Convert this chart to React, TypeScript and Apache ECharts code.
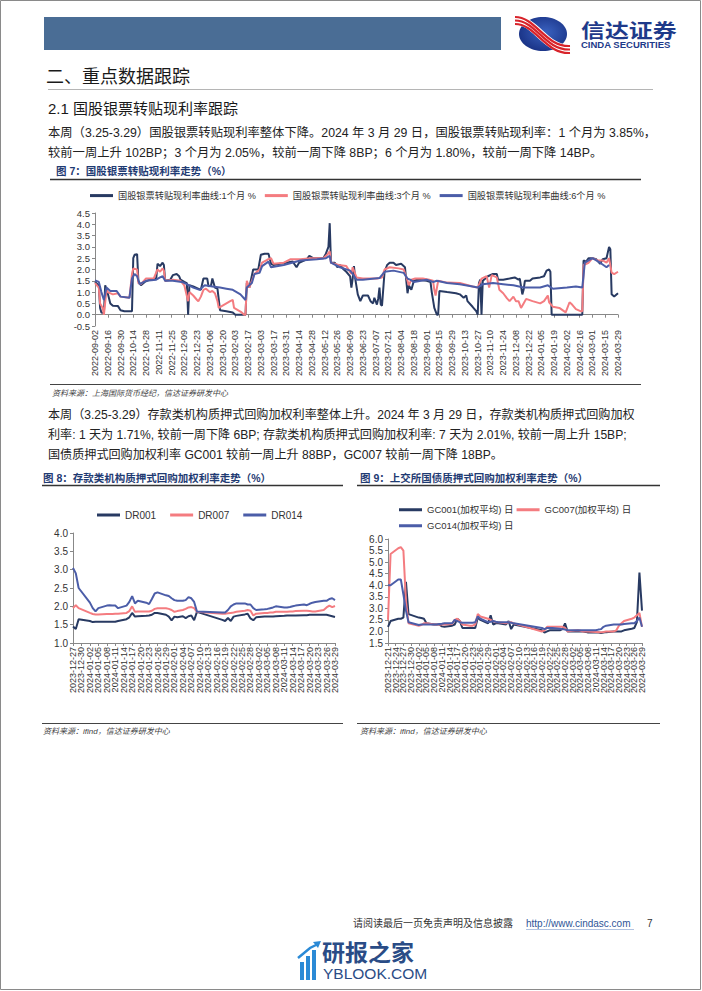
import React, { useEffect, useRef } from 'react';
import * as echarts from 'echarts';

const FONT = "'Liberation Sans', 'Noto Sans CJK SC', sans-serif";
const C_NAVY = '#283A62';
const C_SAL = '#F47C80';
const C_BLUE = '#4B5DA8';

function dayRange(s: [number, number, number], e: [number, number, number], weekdaysOnly: boolean): string[] {
  const out: string[] = [];
  let t = Date.UTC(s[0], s[1] - 1, s[2]);
  const end = Date.UTC(e[0], e[1] - 1, e[2]);
  while (t <= end) {
    const d = new Date(t);
    const wd = d.getUTCDay();
    if (!weekdaysOnly || (wd !== 0 && wd !== 6)) {
      out.push(d.getUTCFullYear() + '-' + String(d.getUTCMonth() + 1).padStart(2, '0') + '-' + String(d.getUTCDate()).padStart(2, '0'));
    }
    t += 86400000;
  }
  return out;
}

// ---------- Chart 1: 国股银票转贴现利率 (weekday categories, points as [weekday index, value]) ----------
const weekDays1 = dayRange([2022, 9, 2], [2024, 3, 29], true);
const names1 = ['国股银票转贴现利率曲线:1个月 %', '国股银票转贴现利率曲线:3个月 %', '国股银票转贴现利率曲线:6个月 %'];

const rate1M: [number, number][] = [
  [0,1.45],[2,1.35],[3,1.3],[4,0.3],[5,0.1],[6,0.08],[7,0.1],[8,1.3],[10,0.95],[12,0.5],[14,0.4],[18,0.38],[20,0.2],[23,0.15],[29,0.15],
  [30,2.5],[31,2.65],[33,2.68],[34,1.5],[36,1.3],[39,1.45],[43,1.55],[48,1.6],[49,2.25],[51,2.15],[53,2.3],[54,2.2],[55,1.5],[59,1.55],
  [61,1.75],[64,1.8],[66,1.7],[67,1.55],[70,1.45],[72,1.4],[73,0.0],[74,1.3],[77,1.25],[83,1.1],[85,1.6],[88,1.6],[89,1.25],[91,1.3],
  [92,1.6],[94,1.2],[96,1.15],[98,0.2],[103,0.15],[108,0.1],[110,0.0],[118,0.0],[119,1.4],[121,1.2],[124,2.0],[128,2.0],[130,2.65],
  [133,2.7],[136,2.7],[138,2.25],[140,2.2],[145,2.25],[150,2.3],[155,2.35],[158,2.1],[160,2.3],[166,2.45],[168,2.6],[171,2.5],[179,2.5],
  [181,2.7],[183,3.0],[184,4.05],[185,2.3],[188,2.3],[190,2.1],[192,2.2],[195,2.0],[197,1.9],[200,1.7],[201,1.2],[202,1.6],[203,2.15],
  [204,1.6],[206,0.9],[208,0.6],[210,0.85],[214,0.85],[216,0.6],[218,0.5],[219,0.75],[221,0.45],[222,0.7],[223,1.2],[224,0.45],[225,0.4],
  [227,1.9],[229,2.2],[231,2.3],[234,2.3],[236,2.2],[240,2.25],[243,2.1],[245,0.95],[246,1.3],[248,1.1],[250,1.5],[253,1.55],[260,1.5],
  [263,1.45],[264,1.0],[266,0.3],[268,0.0],[269,0.0],[270,1.05],[276,1.0],[283,0.95],[286,0.9],[289,0.75],[291,0.85],[292,0.6],[296,0.35],
  [299,0.15],[300,0.0],[301,1.4],[302,1.55],[303,0.0],[304,1.5],[308,1.7],[312,1.8],[315,1.8],[316,1.55],[320,1.55],[325,1.6],[329,1.65],
  [332,1.55],[333,1.6],[335,0.9],[336,1.1],[337,1.5],[341,1.5],[343,1.6],[349,1.65],[352,1.7],[354,1.95],[356,2.0],[357,1.9],[358,0.0],
  [382,0.0],[383,2.4],[385,2.35],[387,2.5],[390,2.5],[393,2.45],[396,2.25],[398,2.45],[401,2.5],[403,3.0],[404,2.9],[405,0.9],[407,0.8],[410,0.95]
];
const rate3M: [number, number][] = [
  [0,1.4],[3,1.2],[4,0.5],[6,0.3],[7,0.0],[9,1.1],[10,1.0],[14,0.9],[18,0.95],[20,0.8],[27,0.75],[29,1.8],[30,2.05],[33,2.0],[34,1.4],
  [36,1.35],[40,1.6],[46,1.6],[49,2.0],[51,1.9],[53,2.05],[54,1.95],[55,1.5],[61,1.55],[67,1.5],[70,1.3],[73,0.6],[74,1.0],[77,0.85],
  [80,0.65],[81,0.6],[83,0.8],[85,1.1],[87,1.15],[90,1.0],[92,1.05],[94,0.95],[96,0.6],[97,0.3],[100,0.4],[103,0.5],[106,0.6],[108,0.65],
  [109,0.3],[112,0.2],[115,0.1],[117,0.0],[118,0.0],[119,1.5],[121,1.2],[125,1.8],[129,2.0],[131,2.3],[135,2.43],[138,2.5],[140,2.25],
  [148,2.3],[153,2.45],[161,2.45],[169,2.5],[179,2.5],[182,2.65],[184,2.8],[185,2.3],[191,2.2],[197,2.15],[201,1.8],[202,2.1],[205,1.65],
  [210,1.6],[221,1.6],[225,1.65],[227,2.0],[231,2.1],[238,2.05],[242,2.0],[245,1.5],[246,1.3],[248,1.55],[251,1.6],[257,1.6],[262,1.55],
  [265,1.5],[266,1.1],[267,0.85],[269,1.5],[276,1.42],[286,1.4],[296,1.25],[300,1.2],[303,1.6],[307,1.7],[309,1.2],[311,1.75],[315,1.65],
  [317,1.1],[320,0.95],[323,0.72],[325,0.6],[328,0.8],[330,0.6],[332,0.6],[334,0.3],[336,0.5],[338,0.7],[343,0.6],[349,0.5],[352,0.6],
  [355,0.85],[356,0.55],[359,0.35],[364,0.3],[369,0.1],[372,0.55],[374,0.45],[377,0.25],[381,0.15],[382,0.15],[383,2.2],[387,2.3],
  [390,2.5],[394,2.4],[398,2.4],[401,2.3],[403,2.5],[405,1.86],[407,1.8],[410,1.9]
];
const rate6M: [number, number][] = [
  [0,1.52],[3,1.45],[5,1.0],[7,0.65],[9,1.2],[12,1.05],[17,1.05],[20,0.8],[27,0.75],[29,1.6],[31,1.8],[33,1.7],[35,1.35],[40,1.5],
  [48,1.55],[51,1.65],[53,1.7],[55,1.5],[61,1.5],[68,1.45],[72,1.35],[77,1.2],[82,1.1],[86,1.3],[92,1.25],[98,1.2],[103,1.15],[108,1.1],
  [114,0.9],[118,0.65],[119,1.2],[123,1.4],[125,1.8],[129,1.85],[131,2.15],[136,2.35],[138,2.1],[148,2.2],[161,2.4],[174,2.45],[181,2.5],
  [184,2.6],[185,2.3],[192,2.1],[200,1.95],[202,1.8],[205,1.55],[210,1.55],[223,1.62],[227,1.9],[234,1.95],[242,1.85],[245,1.6],[247,1.55],
  [250,1.45],[260,1.55],[265,1.45],[268,1.5],[276,1.4],[286,1.35],[296,1.25],[300,1.2],[304,1.35],[312,1.4],[320,1.35],[328,1.3],
  [336,1.2],[341,1.2],[349,1.2],[355,1.3],[359,1.15],[370,1.2],[377,1.25],[382,1.2],[384,2.3],[390,2.5],[396,2.3],[401,2.1],[403,2.2]
];
const yTicks1 = { min: -0.5, max: 4.5, interval: 0.5 };

// ---------- Chart 2: DR ----------
const calDays2 = dayRange([2023, 12, 27], [2024, 3, 29], false);
const tradeDays2 = [
  '2023-12-27','2023-12-28','2023-12-29',
  '2024-01-02','2024-01-03','2024-01-04','2024-01-05',
  '2024-01-08','2024-01-09','2024-01-10','2024-01-11','2024-01-12',
  '2024-01-15','2024-01-16','2024-01-17','2024-01-18','2024-01-19',
  '2024-01-22','2024-01-23','2024-01-24','2024-01-25','2024-01-26',
  '2024-01-29','2024-01-30','2024-01-31','2024-02-01','2024-02-02',
  '2024-02-04','2024-02-05','2024-02-06','2024-02-07','2024-02-08','2024-02-09',
  '2024-02-18','2024-02-19','2024-02-20','2024-02-21','2024-02-22','2024-02-23',
  '2024-02-26','2024-02-27','2024-02-28','2024-02-29','2024-03-01',
  '2024-03-04','2024-03-05','2024-03-06','2024-03-07','2024-03-08',
  '2024-03-11','2024-03-12','2024-03-13','2024-03-14','2024-03-15',
  '2024-03-18','2024-03-19','2024-03-20','2024-03-21','2024-03-22',
  '2024-03-25','2024-03-26','2024-03-27','2024-03-28','2024-03-29'
];
const dr001 = [1.45,1.38,1.65, 1.6,1.57,1.58,1.58, 1.58,1.58,1.58,1.58,1.6, 1.65,1.7,1.82,1.72,1.73, 1.74,1.75,1.77,1.82,1.82,
  1.77,1.72,1.62,1.72,1.7, 1.73,1.68,1.73,1.75,1.62,1.85, 1.63,1.6,1.68,1.6,1.72,1.74, 1.78,1.8,1.67,1.62,1.7,
  1.72,1.72,1.72,1.72,1.73, 1.74,1.75,1.75,1.75,1.75, 1.76,1.76,1.77,1.77,1.77, 1.77,1.77,1.75,1.73,1.71];
const dr007 = [1.95,2.03,1.95, 1.82,1.79,1.78,1.78, 1.79,1.79,1.79,1.8,1.8, 1.82,1.87,2.0,1.85,1.86, 1.86,1.86,1.88,1.93,1.95,
  1.95,1.93,1.9,1.85,1.87, 1.9,1.93,1.97,1.98,1.95,1.85, 1.8,1.8,1.81,1.82,1.83,1.85, 1.88,1.9,1.88,1.75,1.8,
  1.82,1.82,1.83,1.83,1.85, 1.85,1.85,1.86,1.86,1.87, 1.88,1.88,1.87,1.86,1.86, 1.9,1.97,2.02,1.98,2.01];
const dr014 = [3.05,2.9,2.5, 2.1,1.95,1.86,1.95, 2.02,2.03,2.02,2.02,1.95, 2.02,2.12,2.28,2.08,2.15, 2.1,2.06,2.2,2.35,2.38,
  2.3,2.28,2.22,2.17,2.15, 2.15,2.17,2.25,2.22,2.12,1.86, 1.83,1.83,1.9,2.0,2.05,2.08, 2.08,2.05,2.05,1.95,1.9,
  1.92,1.93,1.95,1.97,2.0, 1.97,1.97,1.98,2.0,2.02, 2.05,2.03,2.07,2.1,2.12, 2.15,2.15,2.2,2.22,2.17];
const yTicks2 = { min: 1.0, max: 4.0, interval: 0.5 };

// ---------- Chart 3: GC ----------
const calDays3 = dayRange([2023, 12, 21], [2024, 3, 29], false);
const tradeDays3 = [
  '2023-12-21','2023-12-22','2023-12-25','2023-12-26','2023-12-27','2023-12-28','2023-12-29',
  '2024-01-02','2024-01-03','2024-01-04','2024-01-05',
  '2024-01-08','2024-01-09','2024-01-10','2024-01-11','2024-01-12',
  '2024-01-15','2024-01-16','2024-01-17','2024-01-18','2024-01-19',
  '2024-01-22','2024-01-23','2024-01-24','2024-01-25','2024-01-26',
  '2024-01-29','2024-01-30','2024-01-31','2024-02-01','2024-02-02',
  '2024-02-05','2024-02-06','2024-02-07','2024-02-08',
  '2024-02-19','2024-02-20','2024-02-21','2024-02-22','2024-02-23',
  '2024-02-26','2024-02-27','2024-02-28','2024-02-29','2024-03-01',
  '2024-03-04','2024-03-05','2024-03-06','2024-03-07','2024-03-08',
  '2024-03-11','2024-03-12','2024-03-13','2024-03-14','2024-03-15',
  '2024-03-18','2024-03-19','2024-03-20','2024-03-21','2024-03-22',
  '2024-03-25','2024-03-26','2024-03-27','2024-03-28','2024-03-29'
];
const gc001 = [2.2,2.45,2.55,2.55,2.6,4.15,2.75, 2.6,2.58,2.55,2.35, 2.3,2.3,2.3,2.22,2.2, 2.25,2.3,2.55,2.45,2.15,
  2.15,2.15,2.15,2.6,2.5, 2.35,2.7,2.3,2.35,2.35, 2.3,2.45,2.1,2.3, 2.05,1.95,2.0,2.05,2.05, 2.05,2.1,2.35,2.0,2.0,
  2.0,2.0,2.0,1.98,1.95, 1.95,1.95,1.93,1.95,1.97, 2.0,2.0,2.0,2.0,2.05, 2.12,2.15,2.4,4.55,2.9];
const gc007 = [2.5,5.35,5.6,5.65,5.5,3.3,2.35, 2.25,2.28,2.35,2.35, 2.3,2.3,2.3,2.3,2.3, 2.32,2.5,2.55,2.45,2.3,
  2.25,2.25,2.3,2.75,2.65, 2.55,2.5,2.45,2.4,2.4, 2.35,2.4,2.4,2.35, 2.0,2.05,2.2,2.2,2.2, 2.2,2.2,2.15,2.0,2.02,
  2.05,2.03,2.0,2.0,2.0, 1.98,1.97,1.97,1.98,2.0, 2.0,2.05,2.25,2.35,2.45, 2.55,2.6,2.7,2.8,2.2];
const gc014 = [4.0,4.0,4.25,4.25,3.6,2.9,2.4, 2.28,2.3,2.3,2.3, 2.3,2.3,2.32,2.33,2.35, 2.35,2.5,2.45,2.4,2.38,
  2.38,2.38,2.4,2.65,2.55, 2.4,2.42,2.45,2.42,2.4, 2.4,2.4,2.38,2.35, 2.15,2.1,2.15,2.15,2.15, 2.12,2.1,2.08,2.05,2.05,
  2.05,2.05,2.05,2.05,2.05, 2.05,2.08,2.1,2.2,2.25, 2.3,2.3,2.3,2.3,2.32, 2.35,2.35,2.45,2.6,2.2];
const yTicks3 = { min: 1.5, max: 6.0, interval: 0.5 };

// ---------- page texts ----------
const para1 = [
  '本周（3.25-3.29）国股银票转贴现利率整体下降。2024 年 3 月 29 日，国股银票转贴现利率：1 个月为 3.85%，',
  '较前一周上升 102BP；3 个月为 2.05%，较前一周下降 8BP；6 个月为 1.80%，较前一周下降 14BP。'
];
const para2 = [
  '本周（3.25-3.29）存款类机构质押式回购加权利率整体上升。2024 年 3 月 29 日，存款类机构质押式回购加权',
  '利率: 1 天为 1.71%, 较前一周下降 6BP; 存款类机构质押式回购加权利率: 7 天为 2.01%, 较前一周上升 15BP;',
  '国债质押式回购加权利率 GC001 较前一周上升 88BP，GC007 较前一周下降 18BP。'
];

function txt(x: number, y: number, text: string, o: any = {}) {
  return {
    type: 'text', x, y, silent: true,
    style: {
      text, fill: o.fill || '#222', fontSize: o.size || 12, fontFamily: o.family || FONT,
      fontWeight: o.weight || 'normal', fontStyle: o.italic ? 'italic' : 'normal',
      textAlign: o.align || 'left', textVerticalAlign: 'middle'
    },
    ...(o.scaleX ? { scaleX: o.scaleX } : {})
  };
}
function hline(x1: number, x2: number, y: number, stroke: string, lineWidth: number) {
  return { type: 'line', silent: true, shape: { x1, y1: y, x2, y2: y }, style: { stroke, lineWidth } };
}

const axisLabelY = (size: number) => ({ fontSize: size, color: '#333', fontFamily: FONT, margin: 5, formatter: (v: number) => v.toFixed(1) });
const axisLineGray = { show: true, lineStyle: { color: '#888', width: 1 } };
const tickGray = { show: true, length: 3, lineStyle: { color: '#888' } };
const labelBase = { rotate: 90, fontSize: 9, color: '#333', fontFamily: FONT, margin: 4, hideOverlap: false };

// label-only category axis: shows every `step`-th category starting at `offset`
function labelAxis(gridIndex: number, data: string[], step: number, offset: number) {
  return {
    gridIndex, type: 'category', data, boundaryGap: false, position: 'bottom', offset: 0,
    axisLine: { show: false, onZero: false }, axisTick: { show: false }, splitLine: { show: false },
    axisLabel: { ...labelBase, interval: (i: number) => i % step === offset }
  };
}
function lineAxis(gridIndex: number, data: string[], tickInterval: number, onZero: boolean) {
  return {
    gridIndex, type: 'category', data, boundaryGap: false, position: 'bottom', offset: 0,
    axisLine: { show: true, onZero, lineStyle: { color: '#888' } },
    axisTick: { show: true, interval: tickInterval, length: 3, lineStyle: { color: '#888' } },
    axisLabel: { show: false }, splitLine: { show: false }
  };
}

function lineSeries(name: string, color: string, data: any[], xi: number, yi: number) {
  return {
    type: 'line', name, data, xAxisIndex: xi, yAxisIndex: yi, symbol: 'none', showSymbol: false,
    lineStyle: { color, width: 2 }, itemStyle: { color }, emphasis: { disabled: true }, z: 3
  };
}

export default function App() {
  const ref = useRef<HTMLDivElement>(null);
  useEffect(() => {
    if (!ref.current) return;
    const chart = echarts.init(ref.current, undefined, { renderer: 'svg' });
    const legendText = (size: number) => ({ fontSize: size, color: '#333', fontFamily: FONT });
    const option: any = {
      animation: false,
      backgroundColor: '#fff',
      grid: [
        { left: 95, top: 213, width: 523, height: 113 },
        { left: 73, top: 533, width: 262, height: 110 },
        { left: 388, top: 539, width: 254, height: 104 }
      ],
      legend: [
        { data: names1, left: 90, top: 191, padding: 0, itemGap: 9, itemWidth: 23, itemHeight: 3, icon: 'rect', textStyle: legendText(9.2), selectedMode: false },
        { data: ['DR001', 'DR007', 'DR014'], left: 97, top: 510, padding: 0, itemGap: 14, itemWidth: 23, itemHeight: 3, icon: 'rect', textStyle: legendText(10), selectedMode: false },
        { data: ['GC001(加权平均) 日', 'GC007(加权平均) 日'], left: 399, top: 505, padding: 0, itemGap: 3, itemWidth: 23, itemHeight: 3, icon: 'rect', textStyle: legendText(9.5), selectedMode: false },
        { data: ['GC014(加权平均) 日'], left: 399, top: 521, padding: 0, itemWidth: 23, itemHeight: 3, icon: 'rect', textStyle: legendText(9.5), selectedMode: false }
      ],
      xAxis: [
        labelAxis(0, weekDays1, 10, 0),          // 0: chart 1 labels
        lineAxis(0, weekDays1, 9, true),          // 1: chart 1 zero line + ticks (series axis)
        lineAxis(1, calDays2, 2, false),          // 2: chart 2 axis (series axis)
        labelAxis(1, calDays2, 6, 0),             // 3
        labelAxis(1, calDays2, 6, 3),             // 4
        lineAxis(2, calDays3, 2, false),          // 5: chart 3 axis (series axis)
        labelAxis(2, calDays3, 9, 0),             // 6
        labelAxis(2, calDays3, 9, 3),             // 7
        labelAxis(2, calDays3, 9, 6)              // 8
      ],
      yAxis: [
        { gridIndex: 0, type: 'value', ...yTicks1, splitLine: { show: false }, axisLine: axisLineGray, axisTick: tickGray, axisLabel: axisLabelY(9.5) },
        { gridIndex: 1, type: 'value', ...yTicks2, splitLine: { show: false }, axisLine: axisLineGray, axisTick: tickGray, axisLabel: axisLabelY(10) },
        { gridIndex: 2, type: 'value', ...yTicks3, splitLine: { show: false }, axisLine: axisLineGray, axisTick: tickGray, axisLabel: axisLabelY(10) }
      ],
      series: [
        lineSeries(names1[0], C_NAVY, rate1M.map(([i, v]) => [weekDays1[i], v]), 1, 0),
        lineSeries(names1[1], C_SAL, rate3M.map(([i, v]) => [weekDays1[i], v]), 1, 0),
        lineSeries(names1[2], C_BLUE, rate6M.map(([i, v]) => [weekDays1[i], v]), 1, 0),
        lineSeries('DR001', C_NAVY, tradeDays2.map((d, i) => [d, dr001[i]]), 2, 1),
        lineSeries('DR007', C_SAL, tradeDays2.map((d, i) => [d, dr007[i]]), 2, 1),
        lineSeries('DR014', C_BLUE, tradeDays2.map((d, i) => [d, dr014[i]]), 2, 1),
        lineSeries('GC001(加权平均) 日', C_NAVY, tradeDays3.map((d, i) => [d, gc001[i]]), 5, 2),
        lineSeries('GC007(加权平均) 日', C_SAL, tradeDays3.map((d, i) => [d, gc007[i]]), 5, 2),
        lineSeries('GC014(加权平均) 日', C_BLUE, tradeDays3.map((d, i) => [d, gc014[i]]), 5, 2)
      ],
      graphic: { elements: [
        { type: 'rect', silent: true, shape: { x: 0.5, y: 0.5, width: 700, height: 989 }, style: { fill: 'none', stroke: '#8a8a8a', lineWidth: 1 } },
        { type: 'rect', silent: true, shape: { x: 44, y: 17, width: 457, height: 33 }, style: { fill: '#4A6D95' } },
        // logo
        { type: 'ellipse', silent: true, shape: { cx: 543, cy: 34, rx: 24, ry: 17 },
          style: { fill: new echarts.graphic.RadialGradient(0.55, 0.45, 0.7, [{ offset: 0, color: '#3a62c0' }, { offset: 1, color: '#13297a' }]) } },
        { type: 'bezierCurve', silent: true, shape: { x1: 515, y1: 20, cpx1: 536, cpy1: 20, cpx2: 545, cpy2: 50, x2: 570, y2: 49 }, style: { stroke: '#fff', lineWidth: 9, fill: 'none' } },
        { type: 'bezierCurve', silent: true, shape: { x1: 515, y1: 17, cpx1: 536, cpy1: 17, cpx2: 545, cpy2: 47, x2: 570, y2: 46 }, style: { stroke: '#D8232A', lineWidth: 2.2, fill: 'none' } },
        { type: 'bezierCurve', silent: true, shape: { x1: 515, y1: 20.5, cpx1: 536, cpy1: 20.5, cpx2: 545, cpy2: 50.5, x2: 570, y2: 49.5 }, style: { stroke: '#D8232A', lineWidth: 2.2, fill: 'none' } },
        { type: 'bezierCurve', silent: true, shape: { x1: 515, y1: 24, cpx1: 536, cpy1: 24, cpx2: 545, cpy2: 54, x2: 570, y2: 53 }, style: { stroke: '#D8232A', lineWidth: 2.2, fill: 'none' } },
        txt(581, 31, '信达证券', { size: 19, weight: 'bold', fill: '#1E3A8A', scaleX: 1.26 }),
        txt(581, 44.5, 'CINDA SECURITIES', { size: 9.5, weight: 'bold', fill: '#1E3A8A' }),
        // headings
        txt(46, 77, '二、重点数据跟踪', { size: 18, fill: '#1a1a1a' }),
        hline(48, 653, 89.5, '#b5b5b5', 1),
        txt(48, 108, '2.1 国股银票转贴现利率跟踪', { size: 15, fill: '#1a1a1a' }),
        txt(48, 133, para1[0], { size: 12.3, fill: '#222' }),
        txt(48, 153, para1[1], { size: 12.3, fill: '#222' }),
        txt(56, 171, '图 7：国股银票转贴现利率走势（%）', { size: 10.5, weight: 'bold', fill: '#1F3B73' }),
        hline(50, 641, 179.5, '#333', 1.5),
        hline(50, 641, 384.5, '#444', 1),
        txt(52, 393, '资料来源：上海国际货币经纪，信达证券研发中心', { size: 8, italic: true, fill: '#444' }),
        txt(48, 415, para2[0], { size: 12.1, fill: '#222' }),
        txt(48, 435, para2[1], { size: 12.1, fill: '#222' }),
        txt(48, 455, para2[2], { size: 12.1, fill: '#222' }),
        txt(43, 478, '图 8：存款类机构质押式回购加权利率走势（%）', { size: 10.5, weight: 'bold', fill: '#1F3B73' }),
        hline(42, 343, 485.5, '#333', 1.5),
        txt(360, 478, '图 9：上交所国债质押式回购加权利率走势（%）', { size: 10.5, weight: 'bold', fill: '#1F3B73' }),
        hline(357, 660, 485.5, '#333', 1.5),
        hline(42, 343, 723.5, '#444', 1),
        hline(357, 660, 723.5, '#444', 1),
        txt(43, 731, '资料来源：ifind，信达证券研发中心', { size: 8, italic: true, fill: '#444' }),
        txt(360, 731, '资料来源：ifind，信达证券研发中心', { size: 8, italic: true, fill: '#444' }),
        // footer
        txt(353, 923, '请阅读最后一页免责声明及信息披露', { size: 10, fill: '#333' }),
        txt(526, 923, 'http://www.cindasc.com', { size: 10, fill: '#2F5597' }),
        hline(526, 634, 929.5, '#9db3d8', 0.8),
        txt(647, 923, '7', { size: 10, fill: '#333' }),
        // watermark
        { type: 'rect', silent: true, shape: { x: 300, y: 962, width: 4, height: 18 }, style: { fill: '#2B8AD6' } },
        { type: 'rect', silent: true, shape: { x: 306, y: 956, width: 4, height: 24 }, style: { fill: '#2B8AD6' } },
        { type: 'rect', silent: true, shape: { x: 312, y: 950, width: 4, height: 30 }, style: { fill: '#2B8AD6' } },
        { type: 'polyline', silent: true, shape: { points: [[298, 958], [310, 948], [318, 944]] }, style: { stroke: '#2B8AD6', lineWidth: 2.5, fill: 'none' } },
        { type: 'polygon', silent: true, shape: { points: [[321, 941], [313, 942], [318, 948]] }, style: { fill: '#2B8AD6' } },
        txt(322, 953, '研报之家', { size: 23, weight: 'bold', fill: '#2A4C86' }),
        txt(323, 973, 'YBLOOK.COM', { size: 15.5, fill: '#2A4C86' })
      ] }
    };
    chart.setOption(option);
    return () => chart.dispose();
  }, []);
  return <div ref={ref} style={{ position: 'absolute', left: 0, top: 0, width: 702, height: 991, background: '#fff' }} />;
}
